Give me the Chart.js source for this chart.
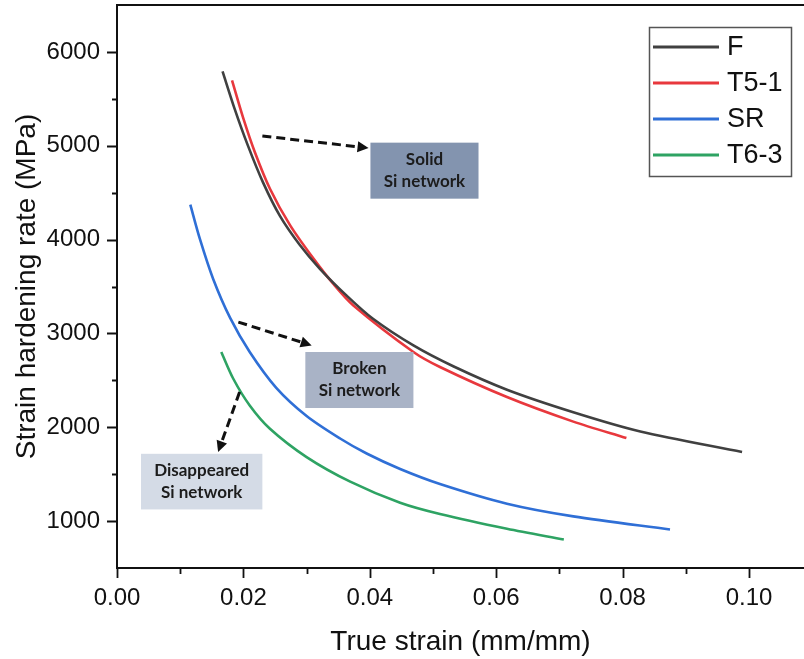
<!DOCTYPE html>
<html>
<head>
<meta charset="utf-8">
<script src="https://cdn.jsdelivr.net/npm/chart.js@4.4.1/dist/chart.umd.min.js"></script>
<style>
  html, body { margin: 0; padding: 0; background: #fff; overflow: hidden; }
</style>
</head>
<body>
<canvas id="chart" width="804" height="659"></canvas>
<script>
// strain hardening rate vs true strain, four heat-treatment conditions
const fStrain = [0.0167, 0.0186, 0.0207, 0.0231, 0.0258, 0.0289, 0.0321, 0.0363, 0.0405, 0.0469, 0.0532, 0.0617, 0.0722, 0.0828, 0.0989];
const fRate = [5793, 5396, 5004, 4610, 4250, 3945, 3689, 3405, 3156, 2872, 2650, 2400, 2160, 1955, 1736];

const t51Strain = [0.0182, 0.0200, 0.0218, 0.0242, 0.0274, 0.0310, 0.0342, 0.0374, 0.0469, 0.0511, 0.0617, 0.0722, 0.0806];
const t51Rate = [5697, 5289, 4934, 4542, 4151, 3805, 3530, 3298, 2802, 2642, 2322, 2060, 1885];

const srStrain = [0.0116, 0.0131, 0.0152, 0.0179, 0.0210, 0.0252, 0.0300, 0.0353, 0.0395, 0.0448, 0.0511, 0.0617, 0.0722, 0.0875];
const srRate = [4372, 4009, 3583, 3165, 2802, 2420, 2120, 1880, 1720, 1555, 1395, 1185, 1050, 910];

const t63Strain = [0.0165, 0.0184, 0.0210, 0.0242, 0.0300, 0.0369, 0.0448, 0.0511, 0.0617, 0.0707];
const t63Rate = [2802, 2517, 2232, 1984, 1682, 1420, 1195, 1075, 918, 804];

const seriesNames = ["F", "T5-1", "SR", "T6-3"];
const seriesColors = ["#404040", "#e8383d", "#2f6fd6", "#2ea363"];

const strainTicks = [0, 0.02, 0.04, 0.06, 0.08, 0.10];
const strainMinor = [0.01, 0.03, 0.05, 0.07, 0.09];
const rateTicks = [1000, 2000, 3000, 4000, 5000, 6000];
const rateMinor = [1500, 2500, 3500, 4500, 5500];

// callout boxes (data coords) and their dashed arrows
const callouts = [
  { lines: ["Solid", "Si network"], fill: "#8394af", box: [0.0401, 0.0572, 5033, 4436], arrow: [0.0230, 5104, 0.0398, 4976] },
  { lines: ["Broken", "Si network"], fill: "#a9b3c6", box: [0.0298, 0.0469, 2802, 2205], arrow: [0.0192, 3121, 0.0308, 2872] },
  { lines: ["Disappeared", "Si network"], fill: "#d4dbe6", box: [0.0038, 0.0230, 1717, 1124], arrow: [0.0194, 2375, 0.0160, 1736] }
];

function zip(xs, ys) {
  return xs.map((x, i) => ({ x: x, y: ys[i] }));
}

const seriesData = [zip(fStrain, fRate), zip(t51Strain, t51Rate), zip(srStrain, srRate), zip(t63Strain, t63Rate)];

const AXIS_FONT = "'Liberation Sans', Arial, sans-serif";

// ── plugin: frame, tick marks, callouts, legend box ──

const decorations = {
  id: "decorations",
  afterDatasetsDraw(chart) {
    const ctx = chart.ctx;
    const xs = chart.scales.x;
    const ys = chart.scales.y;
    const area = chart.chartArea;
    ctx.save();

    // top frame line
    ctx.strokeStyle = "#111";
    ctx.lineWidth = 2;
    ctx.beginPath();
    ctx.moveTo(area.left, area.top);
    ctx.lineTo(area.right, area.top);
    ctx.stroke();

    // outward tick marks
    ctx.lineWidth = 1.8;
    ctx.beginPath();
    strainTicks.concat(strainMinor).forEach((v) => {
      const px = Math.round(xs.getPixelForValue(v)) + 0.5;
      const len = strainMinor.includes(v) ? 6 : 10;
      ctx.moveTo(px, area.bottom);
      ctx.lineTo(px, area.bottom + len);
    });
    rateTicks.concat(rateMinor).forEach((v) => {
      const py = Math.round(ys.getPixelForValue(v)) + 0.5;
      const len = rateMinor.includes(v) ? 5 : 10;
      ctx.moveTo(area.left, py);
      ctx.lineTo(area.left - len, py);
    });
    ctx.stroke();

    // callouts
    callouts.forEach((c) => {
      const x0 = xs.getPixelForValue(c.box[0]);
      const x1 = xs.getPixelForValue(c.box[1]);
      const y0 = ys.getPixelForValue(c.box[2]);
      const y1 = ys.getPixelForValue(c.box[3]);
      ctx.fillStyle = c.fill;
      ctx.fillRect(x0, y0, x1 - x0, y1 - y0);
      ctx.fillStyle = "#1c1c1c";
      ctx.font = "bold 17px Lato, 'Open Sans', sans-serif";
      ctx.textAlign = "center";
      ctx.textBaseline = "middle";
      const cx = (x0 + x1) / 2;
      const cy = (y0 + y1) / 2;
      ctx.fillText(c.lines[0], cx, cy - 11);
      ctx.fillText(c.lines[1], cx, cy + 11);

      const ax0 = xs.getPixelForValue(c.arrow[0]);
      const ay0 = ys.getPixelForValue(c.arrow[1]);
      const ax1 = xs.getPixelForValue(c.arrow[2]);
      const ay1 = ys.getPixelForValue(c.arrow[3]);
      const ang = Math.atan2(ay1 - ay0, ax1 - ax0);
      const head = 11;
      ctx.strokeStyle = "#111";
      ctx.lineWidth = 3;
      ctx.setLineDash([9, 5]);
      ctx.beginPath();
      ctx.moveTo(ax0, ay0);
      ctx.lineTo(ax1 - head * Math.cos(ang), ay1 - head * Math.sin(ang));
      ctx.stroke();
      ctx.setLineDash([]);
      ctx.fillStyle = "#111";
      ctx.beginPath();
      ctx.moveTo(ax1, ay1);
      ctx.lineTo(ax1 - head * Math.cos(ang) + 5.5 * Math.sin(ang), ay1 - head * Math.sin(ang) - 5.5 * Math.cos(ang));
      ctx.lineTo(ax1 - head * Math.cos(ang) - 5.5 * Math.sin(ang), ay1 - head * Math.sin(ang) + 5.5 * Math.cos(ang));
      ctx.closePath();
      ctx.fill();
    });

    // legend box
    const lx = 649, ly = 27, lw = 142, lh = 149;
    ctx.strokeStyle = "#555";
    ctx.lineWidth = 1.5;
    ctx.strokeRect(lx + 0.5, ly + 0.5, lw, lh);
    ctx.font = "27px " + AXIS_FONT;
    ctx.textAlign = "left";
    ctx.textBaseline = "middle";
    chart.data.datasets.forEach((ds, i) => {
      const y = ly + 20 + i * 36;
      ctx.strokeStyle = ds.borderColor;
      ctx.lineWidth = 3;
      ctx.beginPath();
      ctx.moveTo(lx + 4, y);
      ctx.lineTo(lx + 70, y);
      ctx.stroke();
      ctx.fillStyle = "#111";
      ctx.fillText(ds.label, lx + 78, y + 1);
    });

    ctx.restore();
  }
};

new Chart(document.getElementById("chart"), {
  type: "line",
  data: {
    datasets: seriesNames.map((name, i) => ({
      label: name,
      data: seriesData[i],
      borderColor: seriesColors[i],
      borderWidth: 2.6,
      pointRadius: 0,
      fill: false,
      tension: 0.3
    }))
  },
  options: {
    responsive: false,
    devicePixelRatio: 1,
    animation: false,
    layout: { padding: { top: 5, right: 0, bottom: 0, left: 0 } },
    plugins: { legend: { display: false }, tooltip: { enabled: false } },
    scales: {
      x: {
        type: "linear",
        min: 0,
        max: 0.1087,
        afterBuildTicks: (s) => { s.ticks = strainTicks.map((v) => ({ value: v })); },
        afterFit: (s) => { s.height = 91; s.paddingLeft = 0; s.paddingRight = 0; },
        grid: { display: false, drawTicks: false },
        border: { display: true, color: "#111", width: 2 },
        ticks: {
          callback: (v) => Number(v).toFixed(2),
          font: { family: AXIS_FONT, size: 24 },
          color: "#111",
          padding: 16,
          maxRotation: 0,
          autoSkip: false
        },
        title: {
          display: true,
          text: "True strain (mm/mm)",
          font: { family: AXIS_FONT, size: 28 },
          color: "#111",
          padding: { top: 0, bottom: 0 }
        }
      },
      y: {
        min: 500,
        max: 6500,
        afterBuildTicks: (s) => { s.ticks = rateTicks.map((v) => ({ value: v })); },
        afterFit: (s) => { s.width = 117; s.paddingTop = 0; s.paddingBottom = 0; },
        grid: { display: false, drawTicks: false },
        border: { display: true, color: "#111", width: 2 },
        ticks: {
          callback: (v) => String(v),
          font: { family: AXIS_FONT, size: 24 },
          color: "#111",
          padding: 17,
          autoSkip: false
        },
        title: {
          display: true,
          text: "Strain hardening rate (MPa)",
          font: { family: AXIS_FONT, size: 28 },
          color: "#111",
          padding: { top: 10, bottom: 0 }
        }
      }
    }
  },
  plugins: [decorations]
});
</script>
</body>
</html>
